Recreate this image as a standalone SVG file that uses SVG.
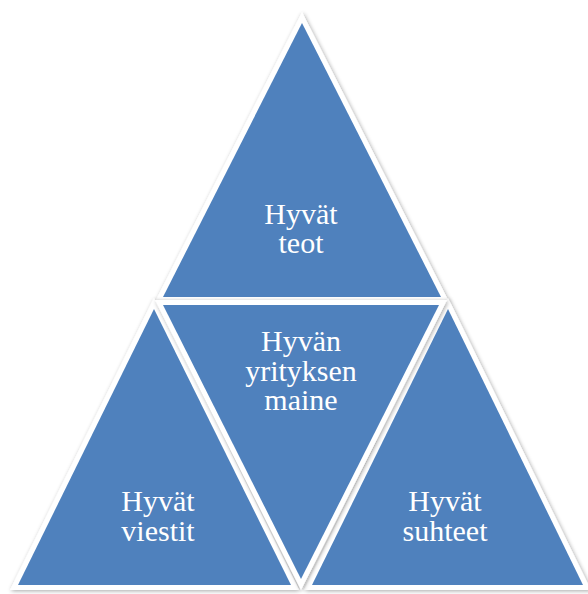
<svg xmlns="http://www.w3.org/2000/svg" width="588" height="594" viewBox="0 0 588 594">
  <defs>
    <filter id="sh" x="-10%" y="-10%" width="120%" height="120%">
      <feGaussianBlur in="SourceAlpha" stdDeviation="2"/>
      <feOffset dx="1" dy="1" result="b"/>
      <feComponentTransfer><feFuncA type="linear" slope="0.35"/></feComponentTransfer>
      <feMerge><feMergeNode/><feMergeNode in="SourceGraphic"/></feMerge>
    </filter>
  </defs>
  <style>
    .edge { fill: #ffffff; stroke: #ffffff; stroke-width: 10; stroke-linejoin: miter; filter: url(#sh); }
    .tri { fill: #4f81bd; stroke: none; }
    .lbl { font-family: "Liberation Serif", "DejaVu Serif", serif; font-size: 30px; fill: #ffffff; text-anchor: middle; }
  </style>
  <rect width="588" height="594" fill="#ffffff"/>
  <g id="connectors"></g>
  <g id="top">
    <polygon class="edge" points="302,23 163,297 441,297"/>
    <polygon class="tri" points="302,23 163,297 441,297"/>
    <text class="lbl" x="301" y="224">Hyvät</text>
    <text class="lbl" x="301" y="253">teot</text>
  </g>
  <g id="left">
    <polygon class="edge" points="154,309 18,585 291,585"/>
    <polygon class="tri" points="154,309 18,585 291,585"/>
    <text class="lbl" x="158" y="511">Hyvät</text>
    <text class="lbl" x="158" y="541">viestit</text>
  </g>
  <g id="right">
    <polygon class="edge" points="448,309 312,585 583,585"/>
    <polygon class="tri" points="448,309 312,585 583,585"/>
    <text class="lbl" x="445" y="511">Hyvät</text>
    <text class="lbl" x="445" y="541">suhteet</text>
  </g>
  <g id="center">
    <polygon class="edge" points="163,305 439,305 301,579"/>
    <polygon class="tri" points="163,305 439,305 301,579"/>
    <text class="lbl" x="301" y="351">Hyvän</text>
    <text class="lbl" x="301" y="381">yrityksen</text>
    <text class="lbl" x="301" y="410">maine</text>
  </g>
</svg>
